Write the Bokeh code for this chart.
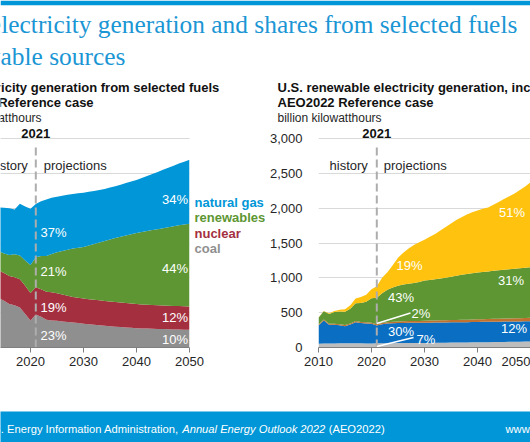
from bokeh.plotting import figure
from bokeh.models import (ColumnDataSource, Range1d, Label, BoxAnnotation, Grid,
                          FixedTicker, NumeralTickFormatter)
from bokeh.layouts import column, row
from bokeh.embed import file_html
from bokeh.resources import INLINE

# ---------------- data ----------------
years = list(range(2010, 2051))
history_end = 2021
x_ticks = [2010, 2020, 2030, 2040, 2050]
left_y_ticks = [0, 1000, 2000, 3000, 4000, 5000, 6000]
right_y_ticks = [0, 500, 1000, 1500, 2000, 2500, 3000]

# Left panel: U.S. electricity generation from selected fuels (billion kWh)
coal = [1850, 1730, 1510, 1580, 1420, 1340, 1250, 1210, 1150, 965,
        775, 950, 880, 800, 775, 765, 750, 735, 715, 700,
        685, 670, 655, 640, 625, 610, 595, 585, 575, 565,
        555, 548, 542, 537, 532, 528, 524, 520, 516, 513, 510]
nuclear = [810, 790, 770, 790, 795, 800, 805, 805, 810, 810,
           790, 780, 790, 800, 810, 790, 770, 750, 735, 725,
           720, 718, 716, 714, 712, 710, 708, 705, 702, 698,
           694, 690, 687, 684, 681, 678, 676, 674, 672, 670, 668]
renewables = [430, 510, 495, 525, 545, 560, 600, 660, 680, 720,
              800, 860, 960, 1030, 1100, 1180, 1250, 1320, 1390, 1440,
              1480, 1540, 1600, 1660, 1720, 1780, 1840, 1890, 1940, 1990,
              2040, 2080, 2115, 2150, 2185, 2220, 2255, 2290, 2320, 2350, 2375]
natural_gas = [970, 1020, 1235, 1125, 1260, 1310, 1345, 1290, 1490, 1555,
               1615, 1530, 1570, 1620, 1615, 1595, 1590, 1580, 1565, 1560,
               1560, 1542, 1524, 1506, 1493, 1490, 1487, 1495, 1503, 1512,
               1521, 1547, 1576, 1609, 1642, 1674, 1705, 1736, 1772, 1802, 1837]
fuel_names = ["natural gas", "renewables", "nuclear", "coal"]
fuel_share_2021 = {"natural gas": "37%", "renewables": "21%", "nuclear": "19%", "coal": "23%"}
fuel_share_2050 = {"natural gas": "34%", "renewables": "44%", "nuclear": "12%", "coal": "10%"}

# Right panel: U.S. renewable electricity generation (billion kWh)
re_other = [55, 56, 57, 58, 60, 60, 60, 60, 60, 58,
            56, 62, 60, 61, 62, 63, 63, 64, 64, 65,
            65, 66, 67, 68, 69, 70, 71, 72, 73, 74,
            75, 76, 77, 78, 79, 80, 81, 82, 83, 85, 86]
re_hydro = [261, 332, 268, 267, 258, 246, 270, 304, 290, 287,
            284, 255, 275, 282, 286, 288, 289, 290, 290, 290,
            291, 291, 291, 291, 291, 291, 291, 291, 291, 291,
            291, 292, 292, 292, 292, 292, 292, 292, 292, 292, 292]
re_geothermal = [15, 15, 16, 16, 16, 16, 16, 16, 16, 16,
                 16, 17, 18, 19, 20, 22, 24, 25, 26, 27,
                 28, 29, 30, 31, 32, 33, 34, 35, 36, 37,
                 38, 39, 40, 41, 42, 43, 44, 45, 46, 47, 48]
re_wind = [95, 117, 141, 168, 182, 191, 210, 254, 273, 295,
           350, 380, 427, 468, 492, 512, 529, 536, 545, 558,
           576, 584, 592, 600, 608, 621, 634, 647, 655, 663,
           671, 678, 683, 689, 695, 700, 705, 711, 717, 721, 726]
re_solar = [4, 5, 10, 15, 25, 35, 50, 70, 85, 100,
            130, 166, 220, 250, 320, 405, 455, 505, 545, 570,
            585, 620, 650, 690, 730, 765, 800, 825, 855, 875,
            890, 905, 918, 950, 982, 1015, 1048, 1080, 1122, 1165, 1218]
re_share_2021 = {"other": "7%", "hydro": "30%", "geothermal": "2%", "wind": "43%", "solar": "19%"}
re_share_2050 = {"hydro": "12%", "wind": "31%", "solar": "51%"}

# ---------------- styles ----------------
SANS = "Liberation Sans"
SERIF = "Liberation Serif"
EIA_BLUE = "#0096D7"
TITLE_BLUE = "#1B96D4"
C_GAS = "#0096D7"
C_REN = "#5D9632"
C_NUC = "#A4303F"
C_COAL = "#8F8F8F"
C_SOLAR = "#FFC20E"
C_WIND = "#5D9632"
C_GEO = "#C0702F"
C_HYDRO = "#0A6FC2"
C_OTHER = "#BDBDBD"
TXT = "#262626"
DARK = "#111111"
GRID = "#D9D9D9"
DASH = "#ADADAD"
PXY = 5.3          # pixels per year
HEAD_H = 125       # header height (px)
PANEL_H = 286      # panel height (px)
FOOT_H = 31        # footer height (px)
BASE_FIX = 0.33    # baseline correction (fraction of font size)


def lx(px):
    return 2010 + (px + 23) / PXY


def ly(py):
    return (347 - py) * 6000 / 209


def rx(px):
    return 2010 + (px - 318) / PXY


def ry(py):
    return (347 - py) * 3000 / 209


def hy(py):
    return HEAD_H - py


def fy(py):
    return FOOT_H - (py - 411)


def txt(fig, x, py, ymap, text, size=13, color="#FFFFFF", align="left", style="normal",
        font=SANS, x_offset=0):
    """py = wanted baseline in page pixels."""
    fig.add_layout(Label(x=x, y=ymap(py - BASE_FIX * size), text=text, text_font=font,
                         text_font_size=f"{size}px", text_color=color, text_align=align,
                         text_baseline="alphabetic", text_font_style=style,
                         x_offset=x_offset))


def style_xaxis(f):
    ax = f.xaxis[0]
    ax.ticker = FixedTicker(ticks=x_ticks)
    ax.bounds = (x_ticks[0], x_ticks[-1])
    ax.axis_line_color = "#7F7F7F"
    ax.major_tick_line_color = "#7F7F7F"
    ax.major_tick_out = 5
    ax.major_tick_in = 0
    ax.minor_tick_line_color = None
    ax.major_label_text_font = SANS
    ax.major_label_text_font_size = "13px"
    ax.major_label_text_color = TXT
    ax.major_label_standoff = 4


# ---------------- header (main title + panel titles) ----------------
header = figure(width=530, height=HEAD_H, x_range=Range1d(0, 530), y_range=Range1d(0, HEAD_H - 5),
                output_backend="svg", toolbar_location=None, x_axis_location=None,
                y_axis_location=None, min_border=0, min_border_top=5, outline_line_color=None,
                border_fill_color=EIA_BLUE, background_fill_color="#FFFFFF")
header.grid.visible = False

txt(header, -62, 32.3, hy, "U.S. electricity generation and shares from selected fuels",
    size=25.4, color=TITLE_BLUE, font=SERIF)
txt(header, -62, 64, hy, "renewable sources", size=25.4, color=TITLE_BLUE, font=SERIF)

for x0, line1 in [(-63, "U.S. electricity generation from selected fuels"),
                  (277, "U.S. renewable electricity generation, including end use")]:
    txt(header, x0, 91.7, hy, line1, color=DARK, style="bold")
    txt(header, x0, 106.7, hy, "AEO2022 Reference case", color=DARK, style="bold")
    txt(header, x0, 121.7, hy, "billion kilowatthours", size=12, color=TXT)

# ---------------- left panel ----------------
src_l = ColumnDataSource(dict(year=years, coal=coal, nuclear=nuclear,
                              renewables=renewables, natural_gas=natural_gas))
left = figure(width=265, height=PANEL_H, x_range=Range1d(lx(0), lx(265)),
              y_range=Range1d(0, ly(HEAD_H)),
              output_backend="svg", toolbar_location=None, y_axis_location=None,
              min_border_left=0, min_border_right=0, min_border_top=0, min_border_bottom=64,
              outline_line_color=None)
left.xgrid.visible = False
left.add_layout(Grid(dimension=1, ticker=FixedTicker(ticks=left_y_ticks),
                     grid_line_color=GRID))
left.varea_stack(["coal", "nuclear", "renewables", "natural_gas"], x="year",
                 color=[C_COAL, C_NUC, C_REN, C_GAS], source=src_l)
left.segment(x0=[history_end], y0=[0], x1=[history_end], y1=[ly(143)],
             line_color=DASH, line_width=2, line_dash="8 4")
style_xaxis(left)
# mask the grid beyond the last projection year (legend area)
left.add_layout(BoxAnnotation(left=years[-1], fill_color="#FFFFFF", fill_alpha=1,
                              line_color=None))

txt(left, history_end, 137.7, ly, str(history_end), color=DARK, style="bold", align="center")
txt(left, history_end, 169.5, ly, "history", color=TXT, align="right", x_offset=-8)
txt(left, history_end, 169.5, ly, "projections", color=TXT, x_offset=8)

txt(left, lx(40), 236, ly, fuel_share_2021["natural gas"])
txt(left, lx(40), 275.5, ly, fuel_share_2021["renewables"])
txt(left, lx(40), 311, ly, fuel_share_2021["nuclear"])
txt(left, lx(40), 339, ly, fuel_share_2021["coal"])
txt(left, lx(187.5), 203, ly, fuel_share_2050["natural gas"], align="right")
txt(left, lx(187.5), 272.7, ly, fuel_share_2050["renewables"], align="right")
txt(left, lx(187.5), 321.7, ly, fuel_share_2050["nuclear"], align="right")
txt(left, lx(187.5), 343, ly, fuel_share_2050["coal"], align="right")

for name, col, base in zip(fuel_names, [C_GAS, C_REN, C_NUC, C_COAL], [206, 221.5, 237, 252.5]):
    txt(left, lx(194), base, ly, name, color=col, style="bold")

# ---------------- right panel ----------------
src_r = ColumnDataSource(dict(year=years, other=re_other, hydro=re_hydro,
                              geothermal=re_geothermal, wind=re_wind, solar=re_solar))
right = figure(width=265, height=PANEL_H, x_range=Range1d(2010, rx(530)),
               y_range=Range1d(0, ry(HEAD_H)),
               output_backend="svg", toolbar_location=None,
               min_border_left=53, min_border_right=0, min_border_top=0, min_border_bottom=64,
               outline_line_color=None)
right.xgrid.visible = False
right.yaxis.ticker = FixedTicker(ticks=right_y_ticks)
right.yaxis.formatter = NumeralTickFormatter(format="0,0")
right.yaxis.axis_line_color = None
right.yaxis.major_tick_line_color = None
right.yaxis.minor_tick_line_color = None
right.yaxis.major_label_standoff = 10
right.yaxis.major_label_text_font = SANS
right.yaxis.major_label_text_font_size = "13px"
right.yaxis.major_label_text_color = TXT
right.ygrid.grid_line_color = GRID
right.varea_stack(["other", "hydro", "geothermal", "wind", "solar"], x="year",
                  color=[C_OTHER, C_HYDRO, C_GEO, C_WIND, C_SOLAR], source=src_r)
right.segment(x0=[history_end], y0=[0], x1=[history_end], y1=[ry(143)],
              line_color=DASH, line_width=2, line_dash="8 4")
style_xaxis(right)

right.segment(x0=[history_end, history_end], y0=[ry(323), ry(346)],
              x1=[rx(410), rx(413)], y1=[ry(312.5), ry(337)],
              line_color="#FFFFFF", line_width=1.5)

txt(right, history_end, 137.7, ry, str(history_end), color=DARK, style="bold", align="center")
txt(right, history_end, 169.5, ry, "history", color=TXT, align="right", x_offset=-9)
txt(right, history_end, 169.5, ry, "projections", color=TXT, x_offset=7)

txt(right, rx(396), 269, ry, re_share_2021["solar"])
txt(right, rx(387.5), 301.7, ry, re_share_2021["wind"])
txt(right, rx(411), 317.3, ry, re_share_2021["geothermal"])
txt(right, rx(387.5), 335, ry, re_share_2021["hydro"])
txt(right, rx(416), 343, ry, re_share_2021["other"])
txt(right, rx(524.5), 216.7, ry, re_share_2050["solar"], align="right")
txt(right, rx(523.5), 284, ry, re_share_2050["wind"], align="right")
txt(right, rx(526.5), 332.7, ry, re_share_2050["hydro"], align="right")

# ---------------- footer ----------------
footer = figure(width=530, height=FOOT_H, x_range=Range1d(0, 530), y_range=Range1d(0, FOOT_H),
                output_backend="svg", toolbar_location=None, x_axis_location=None,
                y_axis_location=None, min_border=0, outline_line_color=None,
                background_fill_color=EIA_BLUE, border_fill_color=EIA_BLUE)
footer.grid.visible = False
FS = 11.2
txt(footer, -60, 431.7, fy, "Source: U.S. Energy Information Administration,", size=FS)
txt(footer, 181.7, 431.7, fy, "Annual Energy Outlook 2022", size=FS, style="italic")
txt(footer, 328.2, 431.7, fy, "(AEO2022)", size=FS)
txt(footer, 505, 431.7, fy, "www.eia.gov", size=FS)

layout = column(header, row(left, right, spacing=0), footer, spacing=0)

open("out.html", "w").write(file_html(layout, INLINE))
